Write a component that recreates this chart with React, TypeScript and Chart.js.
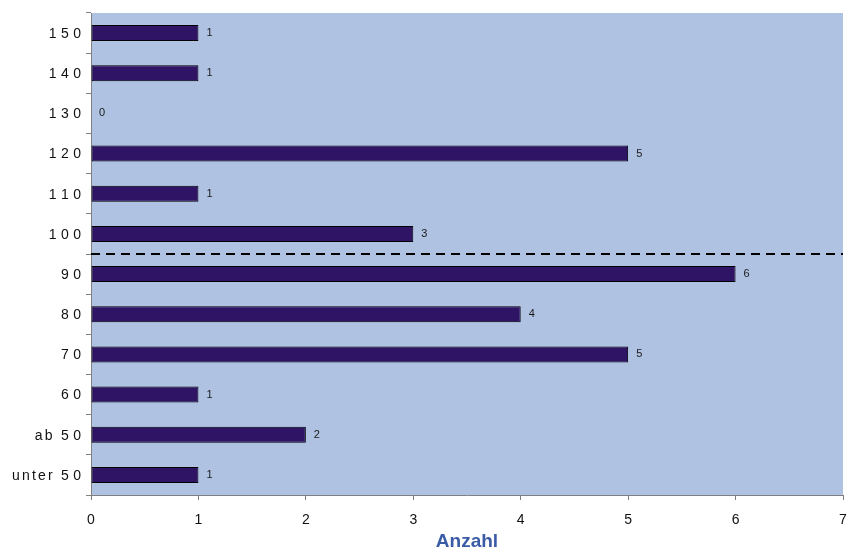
import React, { useEffect, useRef } from "react";
import { Chart, registerables } from "chart.js";

Chart.register(...registerables);

const categories = ["150", "140", "130", "120", "110", "100", "90", "80", "70", "60", "ab 50", "unter 50"];
const counts = [1, 1, 0, 5, 1, 3, 6, 4, 5, 1, 2, 1];
const xTicks = [0, 1, 2, 3, 4, 5, 6, 7];
const xTitle = "Anzahl";
const dividerAfter = "100";

const PLOT_BG = "#AFC2E2";
const BAR = "#2F1466";
const FONT = "'Liberation Sans', Arial, sans-serif";

function drawSpacedLabel(ctx: CanvasRenderingContext2D, text: string, right: number, y: number) {
  const chars = text.split("");
  const widths = chars.map((c) => ctx.measureText(c).width);
  const gaps = chars.map((c, i) => {
    if (i === chars.length - 1) return 0;
    return /[0-9]/.test(c) ? 4.5 : 2.2;
  });
  const total = widths.reduce((a, b) => a + b, 0) + gaps.reduce((a, b) => a + b, 0);
  let x = right - total;
  chars.forEach((c, i) => {
    ctx.fillText(c, x, y);
    x += widths[i] + gaps[i];
  });
}

export default function App() {
  const ref = useRef<HTMLCanvasElement | null>(null);
  useEffect(() => {
    document.body.style.margin = "0";
    const canvas = ref.current!;
    const plugin = {
      id: "custom",
      beforeDraw(chart: any) {
        const { ctx, chartArea } = chart;
        ctx.save();
        ctx.fillStyle = PLOT_BG;
        ctx.fillRect(chartArea.left, chartArea.top, chartArea.right - chartArea.left, chartArea.bottom - chartArea.top);
        ctx.restore();
      },
      afterDatasetsDraw(chart: any) {
        const { ctx, chartArea } = chart;
        const meta = chart.getDatasetMeta(0);
        ctx.save();
        ctx.font = `11px ${FONT}`;
        ctx.fillStyle = "#1a1a1a";
        ctx.textAlign = "left";
        ctx.textBaseline = "middle";
        meta.data.forEach((el: any, i: number) => {
          ctx.fillText(String(counts[i]), el.x + 8, el.y);
        });
        const y = chart.scales.y;
        const idx = categories.indexOf(dividerAfter);
        const py = (y.getPixelForValue(idx) + y.getPixelForValue(idx + 1)) / 2;
        ctx.strokeStyle = "#000";
        ctx.lineWidth = 2;
        ctx.setLineDash([9, 6]);
        ctx.beginPath();
        ctx.moveTo(chartArea.left, py);
        ctx.lineTo(chartArea.right, py);
        ctx.stroke();
        ctx.restore();
      },
      afterDraw(chart: any) {
        const { ctx, chartArea } = chart;
        const yScale = chart.scales.y;
        ctx.save();
        ctx.font = `14px ${FONT}`;
        ctx.fillStyle = "#111";
        ctx.textAlign = "left";
        ctx.textBaseline = "middle";
        categories.forEach((lab, i) => {
          drawSpacedLabel(ctx, lab, chartArea.left - 10, yScale.getPixelForValue(i) + 1);
        });
        ctx.font = `bold 19px ${FONT}`;
        ctx.fillStyle = "#3A5BA6";
        ctx.textAlign = "center";
        ctx.fillText(xTitle, (chartArea.left + chartArea.right) / 2, 542);
        ctx.restore();
      },
    };
    const chart = new Chart(canvas, {
      type: "bar",
      data: {
        labels: categories,
        datasets: [
          {
            data: counts,
            backgroundColor: BAR,
            borderColor: "#000",
            borderWidth: 1,
            borderSkipped: false,
            barPercentage: 0.4,
            categoryPercentage: 1,
          },
        ],
      },
      options: {
        indexAxis: "y",
        animation: false,
        responsive: false,
        layout: { padding: { top: 13, right: 7, left: 0, bottom: 0 } },
        plugins: { legend: { display: false }, tooltip: { enabled: false } },
        scales: {
          x: {
            min: 0,
            max: 7,
            afterBuildTicks(scale: any) {
              scale.ticks = xTicks.map((v) => ({ value: v }));
            },
            afterFit(scale: any) {
              scale.height = 62;
              scale.paddingLeft = 0;
              scale.paddingRight = 0;
            },
            border: { display: true, color: "#808080", width: 1 },
            grid: { drawOnChartArea: false, drawTicks: true, tickLength: 5, color: "#808080" },
            ticks: { font: { family: FONT, size: 14 }, color: "#111", padding: 12 },
          },
          y: {
            offset: true,
            afterFit(scale: any) {
              scale.width = 91;
              scale.paddingTop = 0;
              scale.paddingBottom = 0;
            },
            border: { display: true, color: "#808080", width: 1 },
            grid: { drawOnChartArea: false, offset: true, drawTicks: true, tickLength: 5, color: "#808080" },
            ticks: { display: false, autoSkip: false },
          },
        },
      },
      plugins: [plugin],
    } as any);
    return () => chart.destroy();
  }, []);
  return <canvas ref={ref} width={850} height={557} style={{ display: "block" }} />;
}
